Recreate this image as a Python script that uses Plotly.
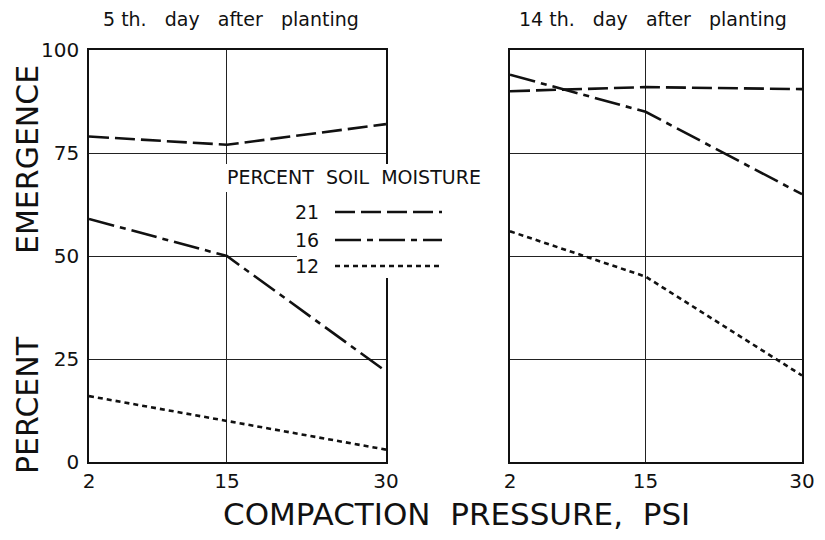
import plotly.graph_objects as go

# compaction pressure, psi
pressure = [2, 15, 30]

# percent emergence, 5th day after planting
day5_m21 = [79, 77, 82]
day5_m16 = [59, 50, 22]
day5_m12 = [16, 10, 3]

# percent emergence, 14th day after planting
day14_m21 = [90, 91, 90.5]
day14_m16 = [94, 85, 65]
day14_m12 = [56, 45, 21]

moisture_labels = ["21", "16", "12"]
y_ticks = [0, 25, 50, 75, 100]
panel_titles = ["5 th.   day   after   planting", "14 th.   day   after   planting"]

# page body has an 8px margin, so the figure sits at (8, 8) in the window
PAD = 8
W, H = 825 - 2 * PAD, 540 - 2 * PAD
FONT = "DejaVu Sans"
dashes = {"21": "20px,6px", "16": "26px,6px,6px,6px", "12": "5px,4px"}


def px(x):
    return (x - PAD) / W


def py(y):
    return 1 - (y - PAD) / H


def note(text, x, y, size, angle=0):
    return dict(text=text, x=px(x), y=py(y), xref="paper", yref="paper", showarrow=False,
                xanchor="center", yanchor="middle", textangle=angle,
                font=dict(family=FONT, size=size, color="#111"))


fig = go.Figure()

panels = [("x", "y", [day5_m21, day5_m16, day5_m12]),
          ("x2", "y2", [day14_m21, day14_m16, day14_m12])]
for xa, ya, series in panels:
    for lab, vals in zip(moisture_labels, series):
        fig.add_trace(go.Scatter(x=pressure, y=vals, mode="lines", xaxis=xa, yaxis=ya,
                                 line=dict(color="#111", width=2.6, dash=dashes[lab]),
                                 showlegend=False))

ax_common = dict(range=[2, 30], tickvals=pressure, showgrid=True, gridcolor="#222", gridwidth=1,
                 zeroline=False, showline=True, mirror=True, linecolor="#111", linewidth=1.5,
                 ticks="", automargin=False, tickfont=dict(family=FONT, size=20, color="#111"))
ay_common = dict(range=[0, 100], tickvals=y_ticks, showgrid=True, gridcolor="#222", gridwidth=1,
                 zeroline=False, showline=True, mirror=True, linecolor="#111", linewidth=1.5,
                 ticks="", automargin=False, tickfont=dict(family=FONT, size=20, color="#111"))

fig.update_layout(
    width=W, height=H,
    margin=dict(l=0, r=0, t=0, b=0),
    paper_bgcolor="white", plot_bgcolor="white",
    xaxis=dict(domain=[px(89), px(386)], anchor="y", **ax_common),
    yaxis=dict(domain=[py(462), py(50)], anchor="x", ticklabelstandoff=4, **ay_common),
    xaxis2=dict(domain=[px(510), px(802)], anchor="y2", **ax_common),
    yaxis2=dict(domain=[py(462), py(50)], anchor="x2", showticklabels=False, **ay_common),
)

annos = []
for t, cx in zip(panel_titles, [231, 653]):
    annos.append(note(t, cx, 19, 19))
annos.append(note("PERCENT", 27, 405, 30, -90))
annos.append(note("EMERGENCE", 27, 160, 30, -90))
annos.append(note("COMPACTION  PRESSURE,  PSI", 456, 514, 31))

# hand-drawn style legend: label first, then line sample
annos.append(note("PERCENT  SOIL  MOISTURE", 354, 177, 19))
shapes = [
    dict(type="rect", xref="paper", yref="paper", x0=px(220), x1=px(492), y0=py(192), y1=py(164),
         fillcolor="white", line=dict(width=0), layer="above"),
    dict(type="rect", xref="paper", yref="paper", x0=px(297), x1=px(492), y0=py(278), y1=py(192),
         fillcolor="white", line=dict(width=0), layer="above"),
]
for lab, ly in zip(moisture_labels, [212, 240, 266]):
    annos.append(note(lab, 307, ly, 19))
    shapes.append(dict(type="line", xref="paper", yref="paper", x0=px(335), x1=px(442),
                       y0=py(ly), y1=py(ly), layer="above",
                       line=dict(color="#111", width=2.4, dash=dashes[lab])))

fig.update_layout(annotations=annos, shapes=shapes)

fig.write_html("out.html")
